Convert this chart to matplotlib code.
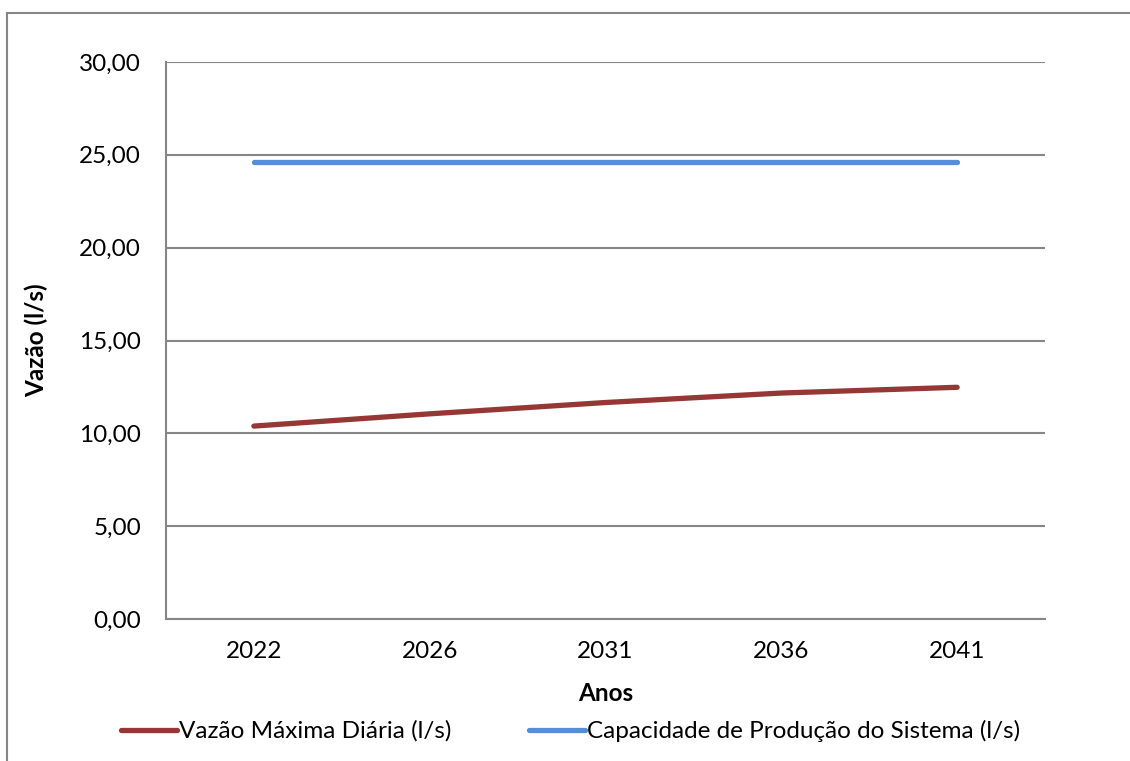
import numpy as np
import matplotlib.pyplot as plt
from matplotlib.patches import Rectangle

# data
anos = ["2022", "2026", "2031", "2036", "2041"]
vazao_max_diaria = [10.39, 11.05, 11.66, 12.17, 12.48]
capacidade = [24.63, 24.63, 24.63, 24.63, 24.63]
yticks = [0, 5, 10, 15, 20, 25, 30]

plt.rcParams['font.family'] = ['Lato', 'DejaVu Sans']
grid_c = '#868686'
fs = 17.5

fig = plt.figure(figsize=(11.30, 7.61), dpi=100)
ax = fig.add_axes([166/1130, 1-619/761, 879/1130, 557/761])

x = np.arange(len(anos))
ax.plot(x, vazao_max_diaria, color='#953735', lw=3.8, solid_capstyle='round',
        label='Vazão Máxima Diária (l/s)')
ax.plot(x, capacidade, color='#558ED5', lw=3.8, solid_capstyle='round',
        label='Capacidade de Produção do Sistema (l/s)')

ax.set_xlim(-0.5, len(anos) - 0.5)
ax.set_ylim(0, 30)
ax.set_yticks(yticks)
ax.set_yticklabels([f"{v:.2f}".replace('.', ',') for v in yticks])
ax.set_xticks(x)
ax.set_xticklabels(anos)
ax.tick_params(axis='both', length=0, labelsize=fs)
ax.tick_params(axis='y', pad=18)
ax.tick_params(axis='x', pad=16)

ax.yaxis.grid(True, color=grid_c, lw=1.5)
ax.set_axisbelow(True)
for s in ['top', 'right']:
    ax.spines[s].set_visible(False)
for s in ['left', 'bottom']:
    ax.spines[s].set_color(grid_c)
    ax.spines[s].set_linewidth(1.5)

ax.set_ylabel('Vazão (l/s)', fontsize=fs, fontweight='bold', labelpad=22)
ax.set_xlabel('Anos', fontsize=fs, fontweight='bold', labelpad=14)

fig.legend(loc='center', bbox_to_anchor=(0.505, 1-731/761), ncol=2, frameon=False,
           fontsize=fs, handlelength=2.3, handletextpad=0.1, columnspacing=3.2)

# outer chart border (cut off at right and bottom)
fig.patches.append(Rectangle((7/1130, -0.1), 1.2, 0.1+(761-13)/761,
                             transform=fig.transFigure, fill=False,
                             edgecolor=grid_c, lw=1.5))

fig.savefig('out.png', dpi=100)
